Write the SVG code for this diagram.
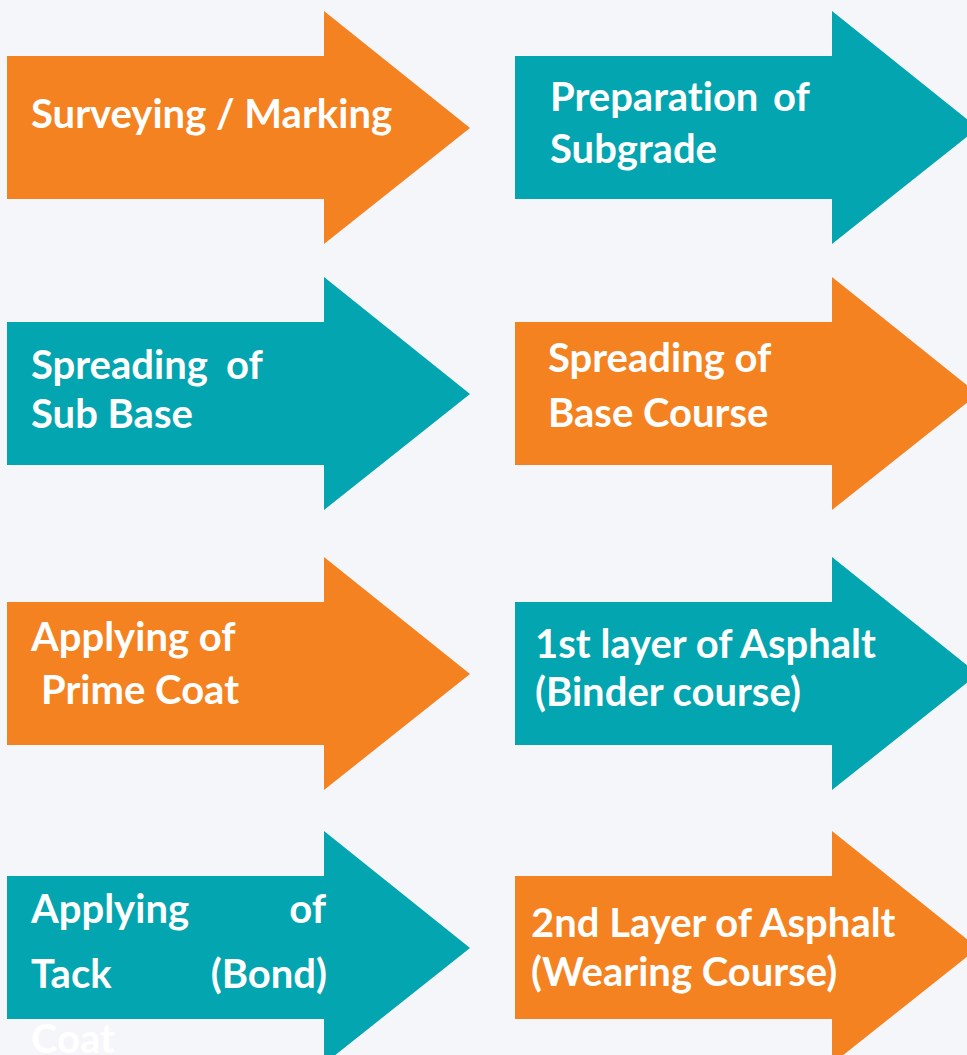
<svg xmlns="http://www.w3.org/2000/svg" width="967" height="1055" viewBox="0 0 967 1055">
<style>
.o{fill:#f58220}
.t{fill:#02a5b0}
.l{font-family:Lato,"Liberation Sans",sans-serif;font-weight:bold;font-size:40px;fill:#ffffff;font-variant-ligatures:none}
</style>
<defs>
<path id="arr" d="M0,45 H317 V0 L463,117 L317,233 V188 H0 Z"/>
</defs>
<rect width="967" height="1055" fill="#f5f6fa"/>
<g id="connectors"></g>
<g id="n1"><use href="#arr" class="o" x="7" y="11"/>
<text class="l" x="31" y="128">Surveying / Marking</text></g>
<g id="n2"><use href="#arr" class="t" x="515" y="11"/>
<text class="l" x="550" y="111">Preparation <tspan x="773">of</tspan></text>
<text class="l" x="550" y="163">Subgrade</text></g>
<g id="n3"><use href="#arr" class="t" x="7" y="277"/>
<text class="l" x="31" y="379">Spreading <tspan x="226">of</tspan></text>
<text class="l" x="31" y="428">Sub Base</text></g>
<g id="n4"><use href="#arr" class="o" x="515" y="277"/>
<text class="l" x="548" y="372">Spreading of</text>
<text class="l" x="548" y="427">Base Course</text></g>
<g id="n5"><use href="#arr" class="o" x="7" y="557"/>
<text class="l" x="31" y="651">Applying of</text>
<text class="l" x="41" y="704">Prime Coat</text></g>
<g id="n6"><use href="#arr" class="t" x="515" y="557"/>
<text class="l" x="535" y="658">1st layer of Asphalt</text>
<text class="l" x="535" y="706">(Binder course)</text></g>
<g id="n7"><use href="#arr" class="t" x="7" y="831"/>
<text class="l" x="31" y="923">Applying</text><text class="l" x="326" y="923" text-anchor="end">of</text>
<text class="l" x="31" y="988">Tack</text><text class="l" x="327" y="988" text-anchor="end">(Bond)</text>
<text class="l" x="31" y="1053">Coat</text></g>
<g id="n8"><use href="#arr" class="o" x="515" y="831"/>
<text class="l" x="531" y="937">2nd Layer of Asphalt</text>
<text class="l" x="531" y="986">(Wearing Course)</text></g>
</svg>
